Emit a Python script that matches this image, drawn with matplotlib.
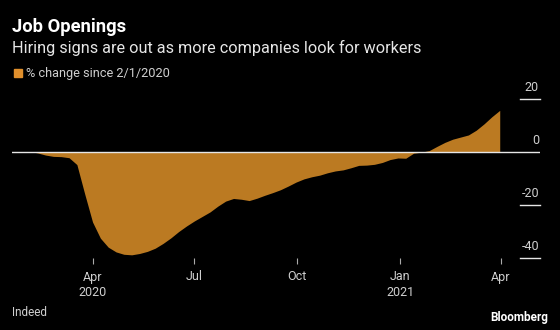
import pandas as pd
import matplotlib
matplotlib.use('Agg')
import matplotlib.pyplot as plt
import matplotlib.transforms as mtrans

# weekly readings, % change in job postings since 2/1/2020
start = '2020-02-05'
values = [0.25, -0.3, -1.1, -1.6, -1.7, -2.1, -4.7, -15.8, -26.4, -32.5,
          -35.9, -37.7, -38.6, -38.8, -38.3, -37.5, -36.3, -34.5, -32.4, -30.0,
          -27.9, -26.0, -24.3, -22.6, -20.4, -18.5, -17.5, -17.8, -18.3, -17.4,
          -16.3, -15.3, -14.2, -12.8, -11.3, -10.1, -9.3, -8.7, -7.8, -7.1,
          -6.7, -5.9, -5.0, -4.9, -4.6, -3.9, -2.8, -2.2, -2.3, -0.4,
          0.0, 0.6, 2.2, 3.7, 4.9, 5.7, 6.5, 8.3, 10.7, 13.4,
          15.8]
dates = pd.date_range(start, periods=len(values), freq='7D')

tick_dates = pd.to_datetime(['2020-04-01', '2020-07-01', '2020-10-01', '2021-01-01', '2021-04-01'])
tick_labels = ['Apr\n2020', 'Jul', 'Oct', 'Jan\n2021', 'Apr']
y_ticks = [20, 0, -20, -40]

plt.rcParams['font.family'] = ['Roboto', 'DejaVu Sans']
orange = '#bb7a22'
grey = '#cfcfcf'

fig = plt.figure(figsize=(5.6, 3.3), dpi=100, facecolor='black')
ax = fig.add_axes([12/560, 1 - 258/330, 528/560, 172/330])
ax.set_facecolor('black')

ax.fill_between(dates, values, 0, color=orange, lw=0)
ax.axhline(0, color='#e6e6e6', lw=1)
for v in y_ticks:
    if v != 0:
        ax.axhline(v, xmin=1 - 20/528, xmax=1, color='#e6e6e6', lw=1, clip_on=False)
    off = mtrans.offset_copy(ax.get_yaxis_transform(), fig=fig, x=-1, y=5, units='dots')
    ax.text(1.0, v, str(v), transform=off, ha='right', va='bottom', color=grey, fontsize=9)

ax.set_xlim(pd.Timestamp('2020-01-20'), pd.Timestamp('2021-05-06'))
ax.set_ylim(-40, 25)
ax.set_xticks(tick_dates)
ax.set_xticklabels(tick_labels, linespacing=1.25)
ax.tick_params(axis='x', length=4, color='#aaaaaa', labelcolor=grey, labelsize=9, pad=5)
ax.set_yticks([])
for s in ax.spines.values():
    s.set_visible(False)

fig.text(12/560, 1 - 27/330, 'Job Openings', color='white', fontsize=13.2, weight='bold', va='center')
fig.text(12/560, 1 - 48/330, 'Hiring signs are out as more companies look for workers',
         color='#e6e6e6', fontsize=11.7, va='center')
fig.patches.append(plt.Rectangle((14/560, 1 - 77/330), 8/560, 8/330, color='#e08f2c',
                                 transform=fig.transFigure, figure=fig))
fig.text(26/560, 1 - 73/330, '% change since 2/1/2020', color=grey, fontsize=9.2, va='center')
fig.text(12/560, 1 - 313/330, 'Indeed', color=grey, fontsize=8.5, va='center')
fig.text(548/560, 1 - 318/330, 'Bloomberg', color='white', fontsize=8.5, weight='bold',
         va='center', ha='right')

fig.savefig('out.png', dpi=100, facecolor='black')
